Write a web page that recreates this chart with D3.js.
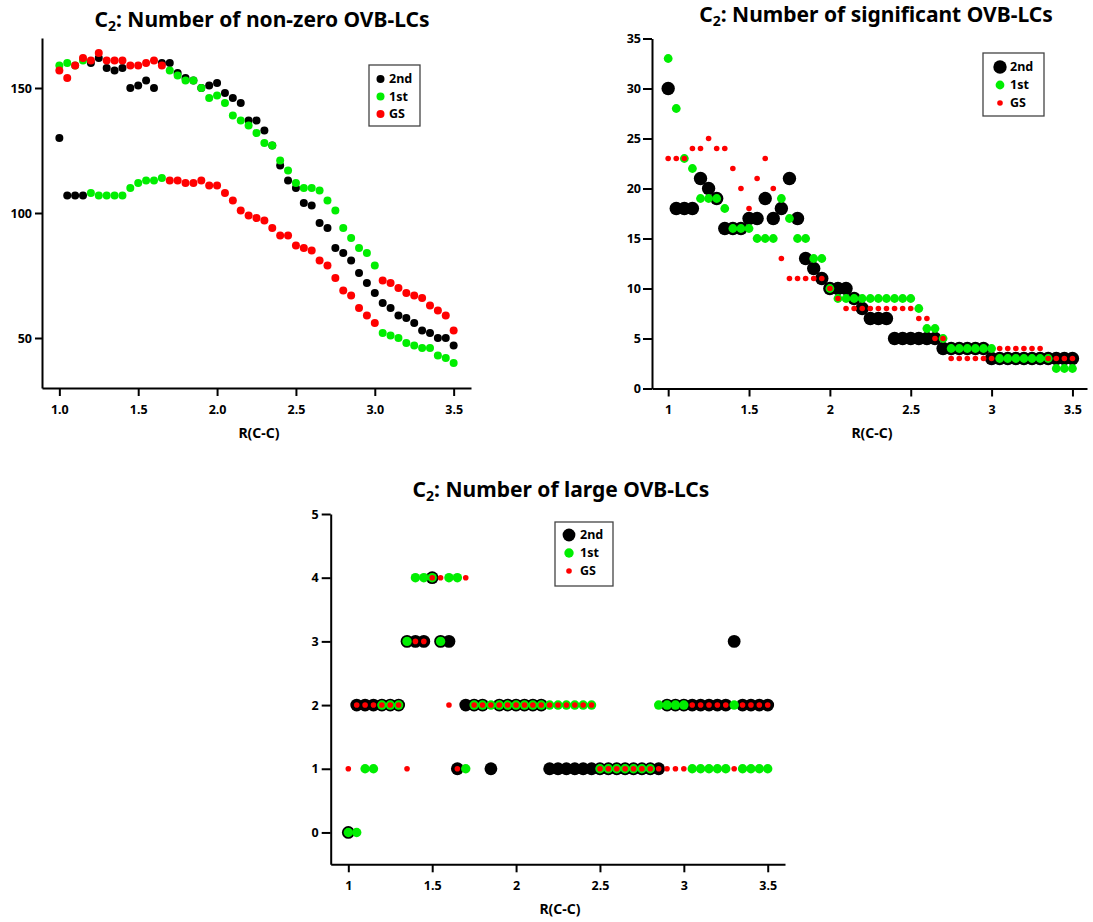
<!DOCTYPE html>
<html><head><meta charset="utf-8">
<script src="https://cdn.jsdelivr.net/npm/d3@7"></script>
<style>
body{margin:0;background:#fff}
text{font-family:"Noto Sans","Open Sans",sans-serif;font-weight:bold;fill:#000}
</style>
</head><body>
<svg id="chart" width="1093" height="922"></svg>
<script>
// R(C-C) values shared by all panels
const rValues = [1.0,1.05,1.1,1.15,1.2,1.25,1.3,1.35,1.4,1.45,1.5,1.55,1.6,1.65,1.7,1.75,1.8,1.85,1.9,1.95,
  2.0,2.05,2.1,2.15,2.2,2.25,2.3,2.35,2.4,2.45,2.5,2.55,2.6,2.65,2.7,2.75,2.8,2.85,2.9,2.95,
  3.0,3.05,3.1,3.15,3.2,3.25,3.3,3.35,3.4,3.45,3.5];

const seriesNames = ["2nd","1st","GS"];
const seriesColors = ["#000000","#00ee00","#ff0000"];

// Panel 1: number of non-zero OVB-LCs
const nonzero2nd = [130,107,107,107,160,162,158,157,158,150,151,153,150,160,160,156,154,153,150,151,
  152,148,146,144,137,137,133,127,119,113,110,104,103,96,94,86,84,81,76,72,
  68,64,62,59,58,56,53,52,50,50,47];
const nonzero1st = [159,160,159,161,108,107,107,107,107,110,112,113,113,114,157,155,153,153,150,146,
  147,144,139,137,135,132,128,127,121,117,112,110,110,109,105,101,94,90,86,84,
  79,52,51,50,48,47,46,46,43,42,40];
const nonzeroGS = [157,154,159,162,161,164,161,161,161,159,159,160,161,159,113,113,112,112,113,111,
  111,108,105,101,99,98,97,94,91,91,87,86,85,81,79,74,69,67,62,59,
  56,73,72,70,68,67,66,63,61,59,53];

// Panel 2: number of significant OVB-LCs
const signif2nd = [30,18,18,18,21,20,19,16,16,16,17,17,19,17,18,21,17,13,12,11,
  10,10,10,9,8,7,7,7,5,5,5,5,5,5,4,4,4,4,4,4,
  3,3,3,3,3,3,3,3,3,3,3];
const signif1st = [33,28,23,22,19,19,19,18,16,16,16,15,15,15,19,17,15,15,13,13,
  10,9,9,9,9,9,9,9,9,9,9,8,6,6,5,4,4,4,4,4,
  4,3,3,3,3,3,3,3,2,2,2];
const signifGS = [23,23,23,24,24,25,24,24,22,20,18,21,23,20,13,11,11,11,11,11,
  10,9,8,8,8,8,8,8,8,8,8,7,7,5,5,3,3,3,3,3,
  3,4,4,4,4,4,4,3,3,3,3];

// Panel 3: number of large OVB-LCs
const large2nd = [0,2,2,2,2,2,2,3,3,3,4,3,3,1,2,2,2,1,2,2,
  2,2,2,2,1,1,1,1,1,1,1,1,1,1,1,1,1,1,2,2,
  2,2,2,2,2,2,3,2,2,2,2];
const large1st = [0,0,1,1,2,2,2,3,4,4,4,3,4,4,1,2,2,2,2,2,
  2,2,2,2,2,2,2,2,2,2,1,1,1,1,1,1,1,2,2,2,
  2,1,1,1,1,1,2,1,1,1,1];
const largeGS = [1,2,2,2,2,2,2,1,3,3,4,4,2,1,4,2,2,2,2,2,
  2,2,2,2,2,2,2,2,2,2,1,1,1,1,1,1,1,1,1,1,
  1,2,2,2,2,2,1,2,2,2,2];

const xTicks = [1.0,1.5,2.0,2.5,3.0,3.5];
const yTicksNonzero = [50,100,150];
const yTicksSignif = [0,5,10,15,20,25,30,35];
const yTicksLarge = [0,1,2,3,4,5];

const svg = d3.select("#chart");

function drawPanel(cfg){
  const g = svg.append("g");
  const x = d3.scaleLinear().domain(cfg.xDomain).range(cfg.xRange);
  const y = d3.scaleLinear().domain(cfg.yDomain).range(cfg.yRange);

  // points: 2nd, then 1st, then GS on top
  cfg.series.forEach((vals, si) => {
    g.append("g").selectAll("circle")
      .data(rValues.map((r,i)=>({r, v: vals[i]})))
      .join("circle")
      .attr("cx", d => x(d.r))
      .attr("cy", d => y(d.v))
      .attr("r", cfg.radii[si])
      .attr("fill", seriesColors[si]);
  });

  const xAxis = d3.axisBottom(x).tickValues(xTicks).tickFormat(cfg.xFormat)
    .tickSize(8).tickSizeOuter(0).tickPadding(cfg.xPad);
  const gx = g.append("g").attr("transform", `translate(0,${cfg.yRange[0]})`).call(xAxis);
  const yAxis = d3.axisLeft(y).tickValues(cfg.yTicks).tickFormat(d3.format("d"))
    .tickSize(cfg.yTickSize).tickSizeOuter(0).tickPadding(cfg.yPad);
  const gy = g.append("g").attr("transform", `translate(${cfg.xRange[0]},0)`).call(yAxis);
  [gx, gy].forEach(a => {
    a.select(".domain").attr("stroke","#000").attr("stroke-width",2);
    a.selectAll(".tick line").attr("stroke","#000").attr("stroke-width",2);
    a.selectAll(".tick text").attr("font-size",12.5).attr("font-family",'"Noto Sans","Open Sans",sans-serif').attr("font-weight","bold").attr("fill","#000");
  });

  // axis title
  g.append("text").attr("x", cfg.xTitleX).attr("y", cfg.xTitleY)
    .attr("text-anchor","middle").attr("font-size",14).text("R(C-C)");

  // title
  const t = g.append("text").attr("x", cfg.titleX).attr("y", cfg.titleY)
    .attr("text-anchor","middle").attr("font-size",21);
  t.append("tspan").text("C");
  t.append("tspan").attr("font-size",14).attr("dy",4).text("2");
  t.append("tspan").attr("dy",-4).text(": " + cfg.title);

  // legend
  const L = cfg.legend;
  g.append("rect").attr("x",L.x).attr("y",L.y).attr("width",L.w).attr("height",L.h)
    .attr("fill","#fff").attr("stroke","#444").attr("stroke-width",1.3);
  seriesNames.forEach((n,i)=>{
    const cy = L.y + L.top + i*L.step;
    g.append("circle").attr("cx",L.x+L.cx).attr("cy",cy).attr("r",cfg.legendRadii[i]).attr("fill",seriesColors[i]);
    g.append("text").attr("x",L.x+L.tx).attr("y",cy).attr("dy","0.35em").attr("font-size",12.5).text(n);
  });
}

drawPanel({
  xDomain:[0.89,3.61], xRange:[42,471], yDomain:[30,170], yRange:[388,38],
  xFormat:d3.format(".1f"), yTicks:yTicksNonzero, xPad:9, yTickSize:7, yPad:3,
  series:[nonzero2nd, nonzero1st, nonzeroGS], radii:[4,4,4], legendRadii:[4,4,4],
  xTitleX:259, xTitleY:438, titleX:262, titleY:27,
  title:"Number of non-zero OVB-LCs",
  legend:{x:369,y:65,w:51,h:61,top:14,step:17.5,cx:11.5,tx:20}
});

drawPanel({
  xDomain:[0.9,3.59], xRange:[652,1087], yDomain:[0,35], yRange:[388.5,38.5],
  xFormat:d3.format("~g"), yTicks:yTicksSignif, xPad:9, yTickSize:9, yPad:2,
  series:[signif2nd, signif1st, signifGS], radii:[6.7,4.4,2.8], legendRadii:[6.7,4.4,2.8],
  xTitleX:872, xTitleY:438, titleX:876, titleY:22,
  title:"Number of significant OVB-LCs",
  legend:{x:983,y:53,w:61,h:63,top:14,step:18,cx:17,tx:27}
});

drawPanel({
  xDomain:[0.895,3.603], xRange:[330.7,785], yDomain:[-0.5,5], yRange:[864.3,514],
  xFormat:d3.format("~g"), yTicks:yTicksLarge, xPad:9, yTickSize:9, yPad:3,
  series:[large2nd, large1st, largeGS], radii:[6.4,4.7,2.8], legendRadii:[6.4,4.7,2.8],
  xTitleX:560, xTitleY:914, titleX:561, titleY:497,
  title:"Number of large OVB-LCs",
  legend:{x:555,y:522,w:58,h:64,top:13,step:18,cx:14,tx:25}
});
</script>
</body></html>
